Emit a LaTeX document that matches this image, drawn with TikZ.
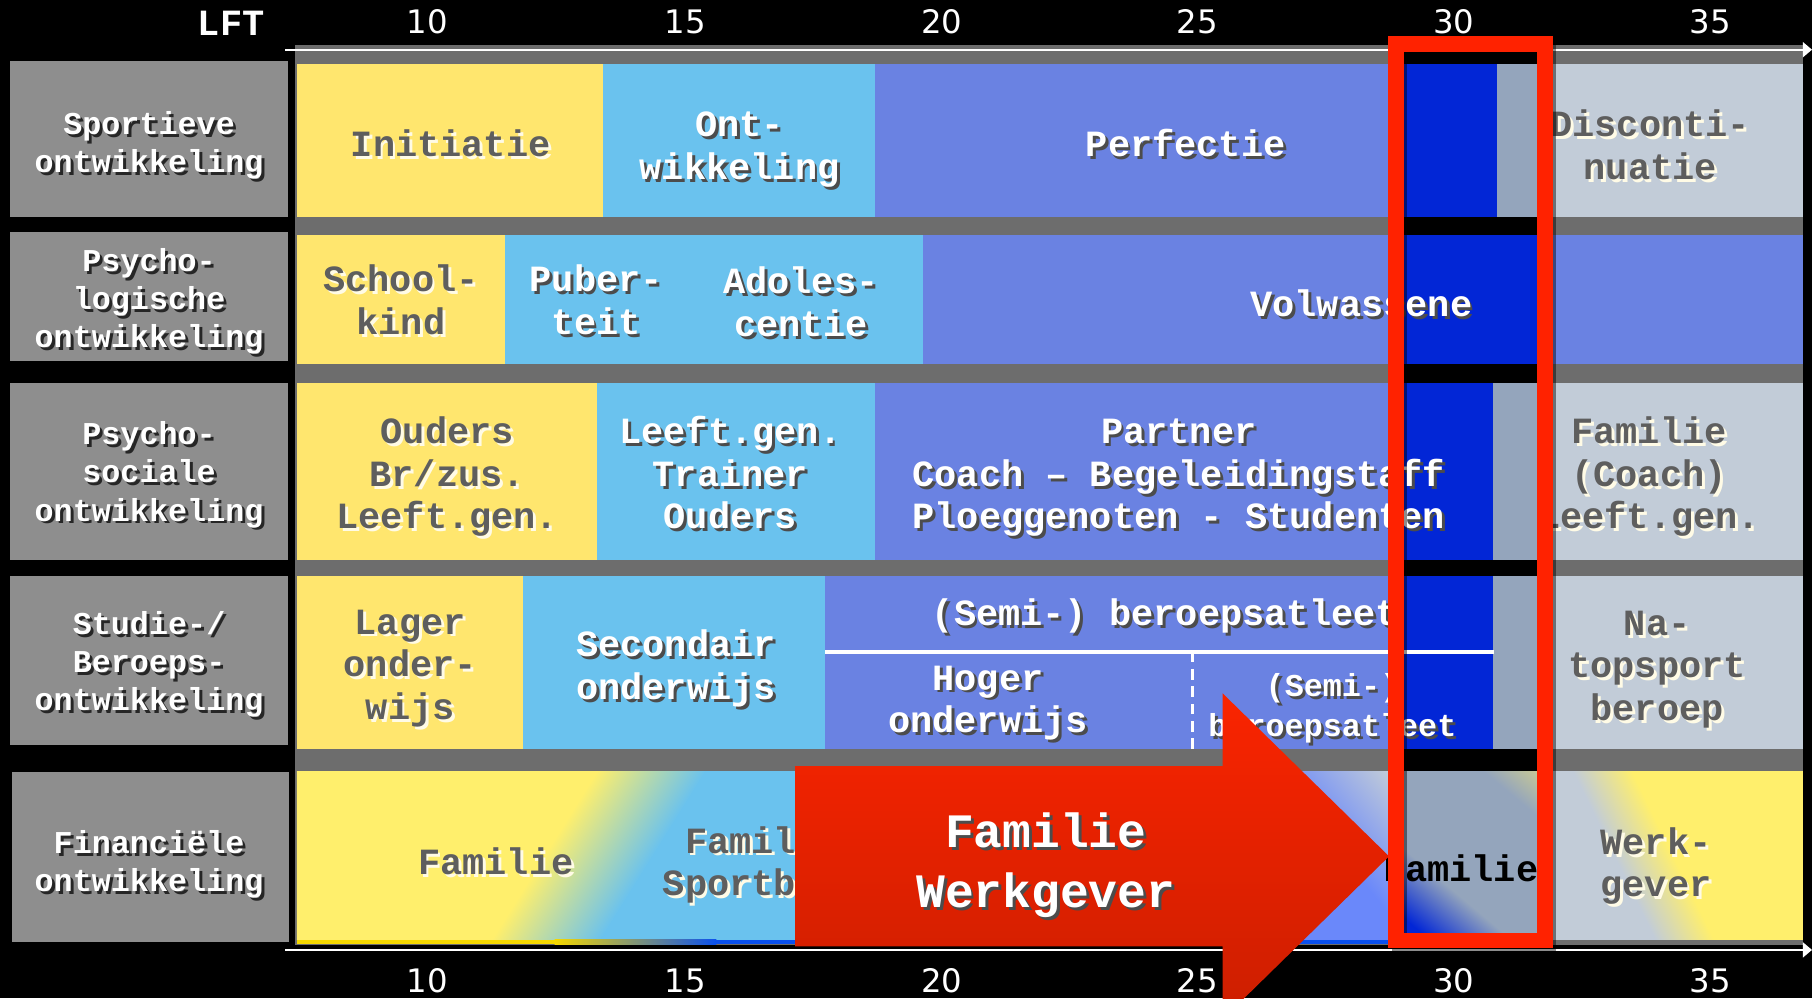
\documentclass[tikz,border=0pt]{standalone}
\usepackage{fontspec}
\setmainfont{Liberation Mono}
\newfontfamily\numfont{DejaVu Sans}
\usetikzlibrary{arrows.meta}

\definecolor{chartgray}{HTML}{6D6D6D}
\definecolor{boxgray}{HTML}{8E8E8E}
\definecolor{yel}{HTML}{FFE66E}
\definecolor{yelb}{HTML}{FFEF6C}
\definecolor{lblue}{HTML}{6AC2EE}
\definecolor{peri}{HTML}{6A82E2}
\definecolor{perib}{HTML}{6A88FA}
\definecolor{dblue}{HTML}{0226D6}
\definecolor{gblue}{HTML}{94A5BC}
\definecolor{lgray}{HTML}{C2CCD8}
\definecolor{framered}{HTML}{FF2200}
\definecolor{arrtop}{HTML}{FA2400}
\definecolor{arrbot}{HTML}{CC1E00}
\definecolor{txtgray}{HTML}{5E5E5E}
\definecolor{shlight}{HTML}{FFFBE6}
\definecolor{stripeyel}{HTML}{F5D800}
\definecolor{stripeblue}{HTML}{0A50EE}

\colorlet{shc}{black}
\newcommand\shd[1]{\makebox[0pt][l]{\hspace{2.5pt}\raisebox{-2.5pt}{\textcolor{shc}{\begin{tabular}{@{}c@{}}#1\end{tabular}}}}\begin{tabular}{@{}c@{}}#1\end{tabular}}

\begin{document}
\begin{tikzpicture}[x=1pt,y=-1pt,
		lbl/.style={text=white,yshift=-4.5pt,font=\fontsize{27.5}{33}\selectfont\bfseries,execute at begin node={\colorlet{shc}{black!85}}},
		wt/.style={text=white,yshift=-4.5pt,font=\fontsize{32}{37}\selectfont\bfseries,execute at begin node={\colorlet{shc}{black!70}}},
		gt/.style={text=txtgray,yshift=-4.5pt,font=\fontsize{32}{37}\selectfont\bfseries,execute at begin node={\colorlet{shc}{shlight}}},
		num/.style={text=white,font=\numfont\fontsize{28}{32}\selectfont},
		axis/.style={white,line width=2pt,-{Triangle[length=8pt,width=13pt]}}
	]
	\useasboundingbox (0,0) rectangle (1568,864);
	\fill[black] (0,0) rectangle (1568,864);
	\fill[chartgray] (255,39) rectangle (1560,818);
	\fill[black] (1208,38) rectangle (1337,818);

	\fill[boxgray] (9,53) rectangle (249,188);
	\fill[boxgray] (9,201) rectangle (249,312);
	\fill[boxgray] (9,331) rectangle (249,485);
	\fill[boxgray] (9,498) rectangle (249,645);
	\fill[boxgray] (10,668) rectangle (250,815);

	\fill[yel] (257,55) rectangle (522,188);
	\fill[lblue] (522,55) rectangle (757,188);
	\fill[peri] (757,55) rectangle (1215,188);
	\fill[dblue] (1215,55) rectangle (1295,188);
	\fill[gblue] (1295,55) rectangle (1331,188);
	\fill[lgray] (1331,55) rectangle (1560,188);

	\fill[yel] (257,203) rectangle (437,315);
	\fill[lblue] (437,203) rectangle (799,315);
	\fill[peri] (799,203) rectangle (1560,315);
	\fill[dblue] (1215,203) rectangle (1331,315);

	\fill[yel] (257,331) rectangle (517,485);
	\fill[lblue] (517,331) rectangle (757,485);
	\fill[peri] (757,331) rectangle (1215,485);
	\fill[dblue] (1215,331) rectangle (1292,485);
	\fill[gblue] (1292,331) rectangle (1331,485);
	\fill[lgray] (1331,331) rectangle (1560,485);

	\fill[yel] (257,498) rectangle (453,648);
	\fill[lblue] (453,498) rectangle (714,648);
	\fill[peri] (714,498) rectangle (1215,648);
	\fill[dblue] (1215,498) rectangle (1292,648);
	\fill[gblue] (1292,498) rectangle (1331,648);
	\fill[lgray] (1331,498) rectangle (1560,648);
	\coordinate (splitl) at (714,564);
	\coordinate (splitr) at (1293,564);
	\coordinate (splitt) at (1032,564);
	\coordinate (splitb) at (1032,648);
	\draw[white,line width=3pt] (splitl) -- (splitr);
	\draw[white,line width=3pt,dash pattern=on 9pt off 6pt] (splitt) -- (splitb);

	\begin{scope}
		\clip (257,668) rectangle (900,813);
		\begin{scope}[transform canvas={rotate around={-32:(518,740)}}]
			\fill[yelb] (0,400) rectangle (480,1100);
			\fill[lblue] (556,400) rectangle (1200,1100);
			\shade[left color=yelb,right color=lblue] (478,400) rectangle (558,1100);
		\end{scope}
	\end{scope}
	\begin{scope}
		\clip (900,668) rectangle (1215,813);
		\begin{scope}[transform canvas={rotate around={40:(1178,700)}}]
			\fill[perib] (700,300) rectangle (1140,1100);
			\fill[lgray] (1216,300) rectangle (1600,1100);
			\shade[left color=perib,right color=lgray] (1138,300) rectangle (1218,1100);
		\end{scope}
	\end{scope}
	\begin{scope}
		\clip (1215,668) rectangle (1331,813);
		\begin{scope}[transform canvas={rotate around={50:(1245,790)}}]
			\fill[dblue] (1000,400) rectangle (1224,1100);
			\fill[gblue] (1266,400) rectangle (1600,1100);
			\shade[left color=dblue,right color=gblue] (1222,400) rectangle (1268,1100);
		\end{scope}
		\begin{scope}[transform canvas={rotate around={50:(1331,668)}}]
			\shade[left color=gblue,right color=yelb!70!gblue] (1301,500) rectangle (1346,900);
			\fill[yelb!70!gblue] (1345,500) rectangle (1450,900);
		\end{scope}
	\end{scope}
	\begin{scope}
		\clip (1331,668) rectangle (1560,813);
		\begin{scope}[transform canvas={rotate around={26:(1422,740)}}]
			\fill[lgray] (1100,400) rectangle (1401,1100);
			\fill[yelb] (1443,400) rectangle (1800,1100);
			\shade[left color=lgray,right color=yelb] (1399,400) rectangle (1445,1100);
		\end{scope}
	\end{scope}
	\fill[stripeyel] (257,813) rectangle (482,817);
	\fill[stripeblue] (618,813) rectangle (1215,817);
	\shade[left color=stripeyel,right color=stripeblue] (480,813) rectangle (620,817);

	\node[lbl] (lsport) at (129,123) {\shd{Sportieve\\ontwikkeling}};
	\node[lbl] (lpsylog) at (129,258) {\shd{Psycho-\\logische\\ontwikkeling}};
	\node[lbl] (lpsysoc) at (129,408) {\shd{Psycho-\\sociale\\ontwikkeling}};
	\node[lbl] (lstudie) at (129,572) {\shd{Studie-/\\Beroeps-\\ontwikkeling}};
	\node[lbl] (lfin) at (129,745) {\shd{Financiële\\ontwikkeling}};

	\node[gt] (initiatie) at (390,125) {\shd{Initiatie}};
	\node[wt] (ontw) at (640,126) {\shd{Ont-\\wikkeling}};
	\node[wt] (perfectie) at (1026,125) {\shd{Perfectie}};
	\node[gt] (discont) at (1428,126) {\shd{Disconti-\\nuatie}};

	\node[gt] (schoolkind) at (347,260) {\shd{School-\\kind}};
	\node[wt] (puberteit) at (516,260) {\shd{Puber-\\teit}};
	\node[wt] (adolescentie) at (693,262) {\shd{Adoles-\\centie}};
	\node[wt] (volwassene) at (1178,263) {\shd{Volwassene}};

	\node[gt] (ouders) at (387,410) {\shd{Ouders\\Br/zus.\\Leeft.gen.}};
	\node[wt] (leeftgen) at (632,410) {\shd{Leeft.gen.\\Trainer\\Ouders}};
	\node[wt] (partner) at (1020,410) {\shd{Partner\\Coach – Begeleidingstaff\\Ploeggenoten - Studenten}};
	\node[gt] (familiecoach) at (1427,410) {\shd{Familie\\(Coach)\\Leeft.gen.}};

	\node[gt] (lager) at (355,575) {\shd{Lager\\onder-\\wijs}};
	\node[wt] (secondair) at (585,576) {\shd{Secondair\\onderwijs}};
	\node[wt] (semiprof) at (1008,531) {\shd{(Semi-) beroepsatleet}};
	\node[wt] (hoger) at (855,605) {\shd{Hoger\\onderwijs}};
	\node[wt,font=\fontsize{27.5}{34}\selectfont\bfseries] (semiprofb) at (1153,610) {\shd{(Semi-)\\beroepsatleet}};
	\node[gt] (natopsport) at (1434,576) {\shd{Na-\\topsport\\beroep}};

	\node[gt] (familie) at (429,746) {\shd{Familie}};
	\node[gt] (famsport) at (660,746) {\shd{Familie\\Sportbond}};
	\node[text=black,font=\fontsize{32}{37}\selectfont\bfseries] (famframe) at (1264,751) {Familie};
	\node[gt] (werkgever) at (1433,747) {\shd{Werk-\\gever}};

	\coordinate (topl) at (247,43);
	\coordinate (topr) at (1568,43);
	\coordinate (botl) at (247,822);
	\coordinate (botr) at (1568,822);
	\draw[axis] (topl) -- (topr);
	\draw[axis] (botl) -- (botr);

	\node[text=white,font=\fontsize{32}{37}\selectfont\bfseries] (lft) at (200,20) {LFT};
	\node[num] (t10) at (370,19) {10};
	\node[num] (t15) at (593,19) {15};
	\node[num] (t20) at (815,19) {20};
	\node[num] (t25) at (1036,19) {25};
	\node[num] (t30) at (1258,19) {30};
	\node[num] (t35) at (1480,19) {35};
	\node[num] (b10) at (370,849) {10};
	\node[num] (b15) at (593,849) {15};
	\node[num] (b20) at (815,849) {20};
	\node[num] (b25) at (1036,849) {25};
	\node[num] (b30) at (1258,849) {30};
	\node[num] (b35) at (1480,849) {35};

	\shade[top color=arrtop,bottom color=arrbot] (688,663) -- (1058,663) -- (1058,600) -- (1202,741) -- (1058,882) -- (1058,819) -- (688,819) -- cycle;
	\node[wt,font=\fontsize{41.5}{52}\selectfont\bfseries] (arrtxt) at (905,746) {\shd{Familie\\Werkgever}};

	\draw[black,opacity=.45,line width=13.5pt] (1211,41) rectangle (1340,817);
	\draw[framered,line width=13.5pt] (1208,38) rectangle (1337,814);
\end{tikzpicture}
\end{document}
